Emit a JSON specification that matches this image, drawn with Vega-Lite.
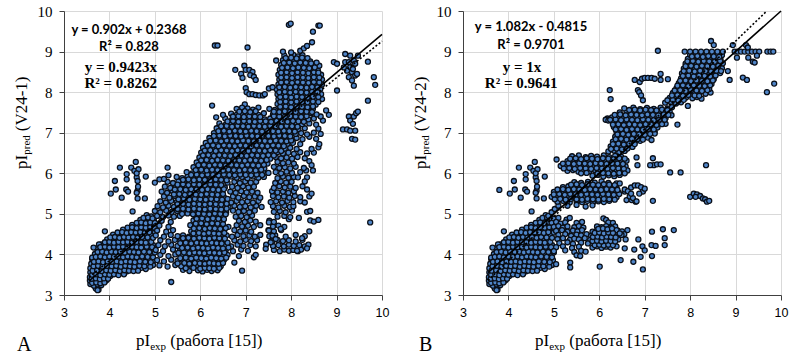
{
"$schema":"https://vega.github.io/schema/vega-lite/v6.json",
"background":"white",
"padding":{"left":13,"top":4,"right":5,"bottom":0},
"spacing":81,
"bounds":"flush",
"config":{
 "view":{"stroke":null},
 "axis":{"grid":true,"gridColor":"#d9d9d9","gridWidth":1,"domainColor":"#404040","tickColor":"#404040","tickSize":5,"labelColor":"#000","labelFlush":false,"labelOverlap":false},
 "axisX":{"labelFont":"Liberation Sans, Arial, sans-serif","labelFontSize":12.5,"labelPadding":6},
 "axisY":{"labelFont":"Liberation Serif, Times New Roman, DejaVu Serif, serif","labelFontSize":15,"labelPadding":7}
},
"datasets":{
"low":[
{"x":3.7,"y":3.16},{"x":3.76,"y":3.13},
{"x":3.58,"y":3.27},{"x":3.66,"y":3.23},{"x":3.74,"y":3.26},{"x":3.82,"y":3.24},
{"x":3.57,"y":3.36},{"x":3.66,"y":3.33},{"x":3.75,"y":3.37},{"x":3.84,"y":3.34},{"x":3.93,"y":3.36},
{"x":3.57,"y":3.44},{"x":3.66,"y":3.47},{"x":3.75,"y":3.43},{"x":3.84,"y":3.46},{"x":3.93,"y":3.44},{"x":4.02,"y":3.47},
{"x":3.58,"y":3.56},{"x":3.68,"y":3.53},{"x":3.78,"y":3.57},{"x":3.88,"y":3.54},{"x":3.98,"y":3.56},{"x":4.08,"y":3.53},{"x":4.18,"y":3.57},{"x":4.28,"y":3.55},{"x":4.38,"y":3.58},
{"x":3.58,"y":3.66},{"x":3.68,"y":3.63},{"x":3.78,"y":3.67},{"x":3.88,"y":3.64},{"x":3.98,"y":3.66},{"x":4.08,"y":3.63},{"x":4.18,"y":3.67},{"x":4.28,"y":3.64},{"x":4.38,"y":3.66},{"x":4.48,"y":3.62},{"x":4.58,"y":3.65},{"x":4.7,"y":3.67},{"x":4.8,"y":3.64},
{"x":3.6,"y":3.77},{"x":3.7,"y":3.74},{"x":3.8,"y":3.78},{"x":3.9,"y":3.75},{"x":4.0,"y":3.77},{"x":4.1,"y":3.74},{"x":4.2,"y":3.78},{"x":4.3,"y":3.75},{"x":4.4,"y":3.77},{"x":4.5,"y":3.74},{"x":4.6,"y":3.78},{"x":4.72,"y":3.75},{"x":4.84,"y":3.77},{"x":4.96,"y":3.74},
{"x":3.62,"y":3.89},{"x":3.72,"y":3.86},{"x":3.82,"y":3.9},{"x":3.92,"y":3.87},{"x":4.02,"y":3.89},{"x":4.12,"y":3.86},{"x":4.22,"y":3.9},{"x":4.32,"y":3.87},{"x":4.42,"y":3.89},{"x":4.52,"y":3.86},{"x":4.62,"y":3.9},{"x":4.74,"y":3.87},{"x":4.86,"y":3.89},{"x":4.98,"y":3.86},
{"x":3.68,"y":4.01},{"x":3.78,"y":3.98},{"x":3.88,"y":4.02},{"x":3.98,"y":3.99},{"x":4.08,"y":4.01},{"x":4.18,"y":3.98},{"x":4.28,"y":4.02},{"x":4.38,"y":3.99},{"x":4.48,"y":4.01},{"x":4.58,"y":3.98},{"x":4.7,"y":4.02},{"x":4.82,"y":3.99},{"x":4.94,"y":4.01},
{"x":3.74,"y":4.13},{"x":3.84,"y":4.1},{"x":3.94,"y":4.14},{"x":4.04,"y":4.11},{"x":4.14,"y":4.13},{"x":4.24,"y":4.1},{"x":4.34,"y":4.14},{"x":4.44,"y":4.11},{"x":4.54,"y":4.13},{"x":4.64,"y":4.1},{"x":4.76,"y":4.14},{"x":4.88,"y":4.11},
{"x":3.82,"y":4.25},{"x":3.92,"y":4.22},{"x":4.02,"y":4.26},{"x":4.12,"y":4.23},{"x":4.22,"y":4.25},{"x":4.32,"y":4.22},{"x":4.42,"y":4.26},{"x":4.52,"y":4.23},{"x":4.62,"y":4.25},{"x":4.72,"y":4.22},{"x":4.84,"y":4.26},{"x":4.96,"y":4.23},
{"x":3.95,"y":4.37},{"x":4.05,"y":4.34},{"x":4.15,"y":4.38},{"x":4.25,"y":4.35},{"x":4.35,"y":4.37},{"x":4.45,"y":4.34},{"x":4.55,"y":4.38},{"x":4.65,"y":4.35},{"x":4.76,"y":4.37},{"x":4.88,"y":4.34},
{"x":4.08,"y":4.49},{"x":4.2,"y":4.46},{"x":4.3,"y":4.5},{"x":4.4,"y":4.47},{"x":4.5,"y":4.49},{"x":4.6,"y":4.46},{"x":4.7,"y":4.5},{"x":4.8,"y":4.47},{"x":4.92,"y":4.49},
{"x":4.3,"y":4.61},{"x":4.4,"y":4.58},{"x":4.5,"y":4.62},{"x":4.6,"y":4.59},{"x":4.7,"y":4.61},{"x":4.8,"y":4.58},{"x":4.9,"y":4.62},{"x":5.0,"y":4.59},
{"x":4.5,"y":4.73},{"x":4.62,"y":4.7},{"x":4.72,"y":4.74},{"x":4.82,"y":4.71},{"x":4.92,"y":4.73},
{"x":4.68,"y":4.85},{"x":4.78,"y":4.82},{"x":4.88,"y":4.86},{"x":4.98,"y":4.83},
{"x":4.82,"y":4.97},{"x":4.92,"y":4.94},
{"x":4.03,"y":5.5},{"x":4.12,"y":5.81},{"x":4.14,"y":5.6},{"x":4.23,"y":6.14},{"x":4.27,"y":5.4},{"x":4.38,"y":5.98},{"x":4.38,"y":5.85},{"x":4.37,"y":5.6},{"x":4.48,"y":6.14},{"x":4.55,"y":6.06},{"x":4.58,"y":6.28},{"x":4.6,"y":5.9},{"x":4.62,"y":5.81},{"x":4.62,"y":5.57},{"x":4.62,"y":5.38},{"x":4.64,"y":6.1},{"x":4.78,"y":5.38},{"x":4.8,"y":5.92},{"x":4.51,"y":5.06},{"x":4.6,"y":5.52},{"x":4.63,"y":5.67},{"x":4.6,"y":6.0},{"x":4.41,"y":5.55},
{"x":3.9,"y":4.57},{"x":3.65,"y":4.17},{"x":3.77,"y":4.25},{"x":3.74,"y":3.12},{"x":3.62,"y":3.92},
{"x":3.62,"y":3.3},{"x":3.71,"y":3.31},{"x":3.8,"y":3.29},{"x":3.89,"y":3.31},
{"x":3.61,"y":3.4},{"x":3.7,"y":3.41},{"x":3.79,"y":3.39},{"x":3.88,"y":3.41},{"x":3.97,"y":3.4},
{"x":3.62,"y":3.5},{"x":3.71,"y":3.51},{"x":3.8,"y":3.49},{"x":3.9,"y":3.51},{"x":4.0,"y":3.5},{"x":4.1,"y":3.51},{"x":4.2,"y":3.49},{"x":4.32,"y":3.51},
{"x":3.63,"y":3.6},{"x":3.73,"y":3.61},{"x":3.83,"y":3.59},{"x":3.93,"y":3.61},{"x":4.03,"y":3.6},{"x":4.13,"y":3.61},{"x":4.23,"y":3.59},{"x":4.33,"y":3.61},{"x":4.43,"y":3.6},{"x":4.53,"y":3.59},{"x":4.63,"y":3.6},
{"x":3.65,"y":3.71},{"x":3.75,"y":3.72},{"x":3.85,"y":3.7},{"x":3.95,"y":3.72},{"x":4.05,"y":3.71},{"x":4.15,"y":3.72},{"x":4.25,"y":3.7},{"x":4.35,"y":3.72},{"x":4.45,"y":3.71},{"x":4.55,"y":3.7},{"x":4.66,"y":3.72},{"x":4.77,"y":3.71},{"x":4.9,"y":3.7},
{"x":3.66,"y":3.82},{"x":3.76,"y":3.83},{"x":3.86,"y":3.81},{"x":3.96,"y":3.83},{"x":4.06,"y":3.82},{"x":4.16,"y":3.83},{"x":4.26,"y":3.81},{"x":4.36,"y":3.83},{"x":4.46,"y":3.82},{"x":4.56,"y":3.81},{"x":4.67,"y":3.83},{"x":4.79,"y":3.82},{"x":4.91,"y":3.81},
{"x":3.7,"y":3.94},{"x":3.8,"y":3.95},{"x":3.9,"y":3.93},{"x":4.0,"y":3.95},{"x":4.1,"y":3.94},{"x":4.2,"y":3.95},{"x":4.3,"y":3.93},{"x":4.4,"y":3.95},{"x":4.5,"y":3.94},{"x":4.6,"y":3.93},{"x":4.72,"y":3.95},{"x":4.84,"y":3.94},{"x":4.96,"y":3.93},
{"x":3.74,"y":4.06},{"x":3.84,"y":4.07},{"x":3.94,"y":4.05},{"x":4.04,"y":4.07},{"x":4.14,"y":4.06},{"x":4.24,"y":4.07},{"x":4.34,"y":4.05},{"x":4.44,"y":4.07},{"x":4.54,"y":4.06},{"x":4.64,"y":4.05},{"x":4.76,"y":4.07},{"x":4.88,"y":4.06},{"x":5.0,"y":4.05},
{"x":3.8,"y":4.18},{"x":3.9,"y":4.19},{"x":4.0,"y":4.17},{"x":4.1,"y":4.19},{"x":4.2,"y":4.18},{"x":4.3,"y":4.19},{"x":4.4,"y":4.17},{"x":4.5,"y":4.19},{"x":4.6,"y":4.18},{"x":4.7,"y":4.17},{"x":4.82,"y":4.19},{"x":4.94,"y":4.18},
{"x":3.9,"y":4.3},{"x":4.0,"y":4.31},{"x":4.1,"y":4.29},{"x":4.2,"y":4.31},{"x":4.3,"y":4.3},{"x":4.4,"y":4.31},{"x":4.5,"y":4.29},{"x":4.6,"y":4.31},{"x":4.7,"y":4.3},{"x":4.8,"y":4.29},{"x":4.92,"y":4.31},
{"x":4.02,"y":4.42},{"x":4.12,"y":4.43},{"x":4.22,"y":4.41},{"x":4.32,"y":4.43},{"x":4.42,"y":4.42},{"x":4.52,"y":4.43},{"x":4.62,"y":4.41},{"x":4.72,"y":4.43},{"x":4.84,"y":4.42},{"x":4.96,"y":4.41},
{"x":4.18,"y":4.54},{"x":4.28,"y":4.55},{"x":4.38,"y":4.53},{"x":4.48,"y":4.55},{"x":4.58,"y":4.54},{"x":4.68,"y":4.55},{"x":4.78,"y":4.53},{"x":4.88,"y":4.55},{"x":5.0,"y":4.54},
{"x":4.4,"y":4.66},{"x":4.5,"y":4.67},{"x":4.6,"y":4.65},{"x":4.7,"y":4.67},{"x":4.8,"y":4.66},{"x":4.9,"y":4.67},{"x":5.0,"y":4.65},
{"x":4.6,"y":4.78},{"x":4.7,"y":4.79},{"x":4.8,"y":4.77},{"x":4.9,"y":4.79},{"x":5.0,"y":4.78},
{"x":4.75,"y":4.9},{"x":4.85,"y":4.91},{"x":4.95,"y":4.89}
],
"a":[
{"x":5.62,"y":3.62},{"x":5.76,"y":3.59},{"x":5.95,"y":3.61},{"x":6.05,"y":3.58},{"x":6.15,"y":3.62},{"x":6.25,"y":3.59},{"x":6.38,"y":3.61},{"x":6.92,"y":3.6},
{"x":5.1,"y":3.73},{"x":5.28,"y":3.7},{"x":5.45,"y":3.74},{"x":5.58,"y":3.71},{"x":5.7,"y":3.73},{"x":5.82,"y":3.7},{"x":5.93,"y":3.74},{"x":6.04,"y":3.71},{"x":6.14,"y":3.73},{"x":6.24,"y":3.7},{"x":6.34,"y":3.74},{"x":6.45,"y":3.71},
{"x":5.05,"y":3.86},{"x":5.2,"y":3.83},{"x":5.36,"y":3.87},{"x":5.5,"y":3.84},{"x":5.62,"y":3.86},{"x":5.74,"y":3.83},{"x":5.86,"y":3.87},{"x":5.97,"y":3.84},{"x":6.08,"y":3.86},{"x":6.19,"y":3.83},{"x":6.3,"y":3.87},{"x":6.42,"y":3.84},{"x":6.52,"y":3.86},{"x":6.75,"y":3.8},
{"x":5.12,"y":3.99},{"x":5.3,"y":3.96},{"x":5.45,"y":4.0},{"x":5.58,"y":3.97},{"x":5.7,"y":3.99},{"x":5.82,"y":3.96},{"x":5.93,"y":4.0},{"x":6.04,"y":3.97},{"x":6.15,"y":3.99},{"x":6.26,"y":3.96},{"x":6.37,"y":4.0},{"x":6.48,"y":3.97},{"x":6.6,"y":3.99},{"x":6.85,"y":3.96},{"x":7.18,"y":3.93},{"x":7.22,"y":3.99},
{"x":5.02,"y":4.11},{"x":5.18,"y":4.08},{"x":5.4,"y":4.12},{"x":5.55,"y":4.09},{"x":5.67,"y":4.11},{"x":5.78,"y":4.08},{"x":5.9,"y":4.12},{"x":6.01,"y":4.09},{"x":6.12,"y":4.11},{"x":6.23,"y":4.08},{"x":6.34,"y":4.12},{"x":6.45,"y":4.09},{"x":6.56,"y":4.11},{"x":6.72,"y":4.08},{"x":6.9,"y":4.12},{"x":7.05,"y":4.09},{"x":7.62,"y":4.11},{"x":7.75,"y":4.08},{"x":7.85,"y":4.12},{"x":7.95,"y":4.09},{"x":8.05,"y":4.11},{"x":8.15,"y":4.08},{"x":8.22,"y":4.12},
{"x":5.08,"y":4.23},{"x":5.22,"y":4.2},{"x":5.36,"y":4.24},{"x":5.5,"y":4.21},{"x":5.62,"y":4.23},{"x":5.74,"y":4.2},{"x":5.86,"y":4.24},{"x":5.98,"y":4.21},{"x":6.09,"y":4.23},{"x":6.2,"y":4.2},{"x":6.31,"y":4.24},{"x":6.42,"y":4.21},{"x":6.55,"y":4.23},{"x":6.68,"y":4.2},{"x":6.82,"y":4.24},{"x":6.95,"y":4.21},{"x":7.1,"y":4.23},{"x":7.22,"y":4.2},{"x":7.45,"y":4.24},{"x":7.6,"y":4.21},{"x":7.72,"y":4.23},{"x":7.84,"y":4.2},{"x":7.95,"y":4.24},{"x":8.06,"y":4.21},{"x":8.18,"y":4.23},{"x":8.3,"y":4.2},{"x":8.38,"y":4.24},
{"x":5.12,"y":4.35},{"x":5.3,"y":4.32},{"x":5.44,"y":4.36},{"x":5.56,"y":4.33},{"x":5.68,"y":4.35},{"x":5.8,"y":4.32},{"x":5.92,"y":4.36},{"x":6.04,"y":4.33},{"x":6.15,"y":4.35},{"x":6.27,"y":4.32},{"x":6.38,"y":4.36},{"x":6.5,"y":4.33},{"x":6.75,"y":4.35},{"x":6.88,"y":4.32},{"x":7.0,"y":4.36},{"x":7.12,"y":4.33},{"x":7.25,"y":4.35},{"x":7.58,"y":4.32},{"x":7.7,"y":4.36},{"x":7.82,"y":4.33},{"x":7.95,"y":4.35},{"x":8.1,"y":4.32},{"x":8.25,"y":4.36},
{"x":5.02,"y":4.47},{"x":5.2,"y":4.44},{"x":5.35,"y":4.48},{"x":5.5,"y":4.45},{"x":5.62,"y":4.47},{"x":5.75,"y":4.44},{"x":5.88,"y":4.48},{"x":6.0,"y":4.45},{"x":6.11,"y":4.47},{"x":6.22,"y":4.44},{"x":6.34,"y":4.48},{"x":6.45,"y":4.45},{"x":6.58,"y":4.47},{"x":6.7,"y":4.44},{"x":6.82,"y":4.48},{"x":6.95,"y":4.45},{"x":7.08,"y":4.47},{"x":7.2,"y":4.44},{"x":7.32,"y":4.48},{"x":7.52,"y":4.45},{"x":7.65,"y":4.47},{"x":7.88,"y":4.44},{"x":8.1,"y":4.48},{"x":8.3,"y":4.45},
{"x":5.05,"y":4.59},{"x":5.25,"y":4.56},{"x":5.4,"y":4.6},{"x":5.8,"y":4.57},{"x":5.92,"y":4.59},{"x":6.04,"y":4.56},{"x":6.16,"y":4.6},{"x":6.28,"y":4.57},{"x":6.4,"y":4.59},{"x":6.52,"y":4.56},{"x":6.75,"y":4.6},{"x":6.88,"y":4.57},{"x":7.0,"y":4.59},{"x":7.12,"y":4.56},{"x":7.5,"y":4.6},{"x":7.62,"y":4.57},{"x":7.78,"y":4.6},{"x":8.4,"y":4.57},
{"x":5.1,"y":4.71},{"x":5.3,"y":4.68},{"x":5.78,"y":4.72},{"x":5.9,"y":4.69},{"x":6.02,"y":4.71},{"x":6.14,"y":4.68},{"x":6.26,"y":4.72},{"x":6.38,"y":4.69},{"x":6.5,"y":4.71},{"x":6.62,"y":4.68},{"x":6.8,"y":4.72},{"x":6.92,"y":4.69},{"x":7.05,"y":4.71},{"x":7.18,"y":4.68},{"x":7.32,"y":4.72},{"x":7.6,"y":4.69},{"x":7.72,"y":4.71},{"x":7.85,"y":4.68},
{"x":5.15,"y":4.83},{"x":5.35,"y":4.8},{"x":5.85,"y":4.84},{"x":5.97,"y":4.81},{"x":6.09,"y":4.83},{"x":6.21,"y":4.8},{"x":6.33,"y":4.84},{"x":6.45,"y":4.81},{"x":6.85,"y":4.83},{"x":6.98,"y":4.8},{"x":7.1,"y":4.84},{"x":7.22,"y":4.81},{"x":7.52,"y":4.83},{"x":7.62,"y":4.8},{"x":7.95,"y":4.87},{"x":8.42,"y":4.84},{"x":8.5,"y":4.81},{"x":8.6,"y":4.85},
{"x":5.05,"y":4.95},{"x":5.18,"y":4.92},{"x":5.3,"y":4.96},{"x":5.42,"y":4.93},{"x":5.55,"y":4.95},{"x":5.9,"y":4.92},{"x":6.02,"y":4.96},{"x":6.14,"y":4.93},{"x":6.26,"y":4.95},{"x":6.38,"y":4.92},{"x":6.5,"y":4.96},{"x":6.78,"y":4.93},{"x":6.9,"y":4.95},{"x":7.02,"y":4.92},{"x":7.14,"y":4.96},{"x":7.7,"y":4.93},{"x":7.85,"y":4.95},{"x":7.98,"y":4.92},{"x":8.17,"y":4.9},
{"x":5.0,"y":5.07},{"x":5.12,"y":5.04},{"x":5.25,"y":5.08},{"x":5.37,"y":5.05},{"x":5.49,"y":5.07},{"x":5.61,"y":5.04},{"x":5.73,"y":5.08},{"x":5.85,"y":5.05},{"x":5.97,"y":5.07},{"x":6.09,"y":5.04},{"x":6.21,"y":5.08},{"x":6.33,"y":5.05},{"x":6.45,"y":5.07},{"x":6.57,"y":5.04},{"x":6.72,"y":5.08},{"x":6.84,"y":5.05},{"x":6.96,"y":5.07},{"x":7.08,"y":5.04},{"x":7.2,"y":5.08},{"x":7.62,"y":5.05},{"x":7.75,"y":5.07},{"x":7.88,"y":5.04},{"x":8.02,"y":5.08},{"x":8.35,"y":5.05},{"x":8.42,"y":5.07},
{"x":5.06,"y":5.19},{"x":5.18,"y":5.16},{"x":5.3,"y":5.2},{"x":5.42,"y":5.17},{"x":5.54,"y":5.19},{"x":5.66,"y":5.16},{"x":5.78,"y":5.2},{"x":5.9,"y":5.17},{"x":6.02,"y":5.19},{"x":6.14,"y":5.16},{"x":6.26,"y":5.2},{"x":6.38,"y":5.17},{"x":6.5,"y":5.19},{"x":6.62,"y":5.16},{"x":6.75,"y":5.2},{"x":6.87,"y":5.17},{"x":6.99,"y":5.19},{"x":7.11,"y":5.16},{"x":7.23,"y":5.2},{"x":7.35,"y":5.17},{"x":7.6,"y":5.19},{"x":7.72,"y":5.16},{"x":7.85,"y":5.2},{"x":7.97,"y":5.17},{"x":8.05,"y":5.19},
{"x":5.12,"y":5.31},{"x":5.24,"y":5.28},{"x":5.36,"y":5.32},{"x":5.48,"y":5.29},{"x":5.6,"y":5.31},{"x":5.72,"y":5.28},{"x":5.84,"y":5.32},{"x":5.96,"y":5.29},{"x":6.08,"y":5.31},{"x":6.2,"y":5.28},{"x":6.32,"y":5.32},{"x":6.44,"y":5.29},{"x":6.56,"y":5.31},{"x":6.68,"y":5.28},{"x":6.8,"y":5.32},{"x":6.92,"y":5.29},{"x":7.04,"y":5.31},{"x":7.16,"y":5.28},{"x":7.28,"y":5.32},{"x":7.55,"y":5.29},{"x":7.67,"y":5.31},{"x":7.8,"y":5.28},{"x":7.92,"y":5.32},{"x":8.05,"y":5.29},{"x":8.2,"y":5.31},{"x":8.3,"y":5.28},
{"x":5.2,"y":5.43},{"x":5.32,"y":5.4},{"x":5.44,"y":5.44},{"x":5.56,"y":5.41},{"x":5.68,"y":5.43},{"x":5.8,"y":5.4},{"x":5.92,"y":5.44},{"x":6.04,"y":5.41},{"x":6.16,"y":5.43},{"x":6.28,"y":5.4},{"x":6.4,"y":5.44},{"x":6.52,"y":5.41},{"x":6.72,"y":5.43},{"x":6.84,"y":5.4},{"x":6.96,"y":5.44},{"x":7.08,"y":5.41},{"x":7.2,"y":5.43},{"x":7.32,"y":5.4},{"x":7.6,"y":5.44},{"x":7.72,"y":5.41},{"x":7.84,"y":5.43},{"x":7.96,"y":5.4},{"x":8.08,"y":5.44},{"x":8.2,"y":5.41},{"x":8.4,"y":5.43},
{"x":5.15,"y":5.55},{"x":5.27,"y":5.52},{"x":5.39,"y":5.56},{"x":5.51,"y":5.53},{"x":5.63,"y":5.55},{"x":5.75,"y":5.52},{"x":5.87,"y":5.56},{"x":5.99,"y":5.53},{"x":6.11,"y":5.55},{"x":6.23,"y":5.52},{"x":6.35,"y":5.56},{"x":6.47,"y":5.53},{"x":6.66,"y":5.55},{"x":6.78,"y":5.52},{"x":6.9,"y":5.56},{"x":7.02,"y":5.53},{"x":7.14,"y":5.55},{"x":7.26,"y":5.52},{"x":7.58,"y":5.56},{"x":7.7,"y":5.53},{"x":7.82,"y":5.55},{"x":7.94,"y":5.52},{"x":8.06,"y":5.56},
{"x":5.22,"y":5.67},{"x":5.34,"y":5.64},{"x":5.46,"y":5.68},{"x":5.58,"y":5.65},{"x":5.7,"y":5.67},{"x":5.82,"y":5.64},{"x":5.94,"y":5.68},{"x":6.06,"y":5.65},{"x":6.18,"y":5.67},{"x":6.3,"y":5.64},{"x":6.42,"y":5.68},{"x":6.54,"y":5.65},{"x":6.7,"y":5.67},{"x":6.82,"y":5.64},{"x":6.94,"y":5.68},{"x":7.06,"y":5.65},{"x":7.18,"y":5.67},{"x":7.62,"y":5.64},{"x":7.74,"y":5.68},{"x":7.86,"y":5.65},{"x":7.98,"y":5.67},{"x":8.1,"y":5.64},{"x":8.25,"y":5.68},
{"x":5.0,"y":5.77},{"x":5.28,"y":5.79},{"x":5.4,"y":5.76},{"x":5.52,"y":5.8},{"x":5.64,"y":5.77},{"x":5.76,"y":5.79},{"x":5.88,"y":5.76},{"x":6.0,"y":5.8},{"x":6.12,"y":5.77},{"x":6.24,"y":5.79},{"x":6.36,"y":5.76},{"x":6.48,"y":5.8},{"x":6.6,"y":5.77},{"x":6.75,"y":5.79},{"x":6.87,"y":5.76},{"x":6.99,"y":5.8},{"x":7.11,"y":5.77},{"x":7.23,"y":5.79},{"x":7.65,"y":5.76},{"x":7.77,"y":5.8},{"x":7.89,"y":5.77},{"x":8.01,"y":5.79},
{"x":5.1,"y":5.85},{"x":5.2,"y":5.86},{"x":5.3,"y":5.95},{"x":5.48,"y":5.91},{"x":5.6,"y":5.88},{"x":5.72,"y":5.92},{"x":5.84,"y":5.89},{"x":5.96,"y":5.91},{"x":6.08,"y":5.88},{"x":6.2,"y":5.92},{"x":6.32,"y":5.89},{"x":6.44,"y":5.91},{"x":6.56,"y":5.88},{"x":6.68,"y":5.92},{"x":6.8,"y":5.89},{"x":6.92,"y":5.91},{"x":7.04,"y":5.88},{"x":7.16,"y":5.92},{"x":7.28,"y":5.89},{"x":7.4,"y":5.91},{"x":7.7,"y":5.88},{"x":7.82,"y":5.92},{"x":7.94,"y":5.89},{"x":8.06,"y":5.91},{"x":8.35,"y":5.9},
{"x":5.7,"y":6.03},{"x":5.82,"y":6.0},{"x":5.94,"y":6.04},{"x":6.06,"y":6.01},{"x":6.18,"y":6.03},{"x":6.3,"y":6.0},{"x":6.42,"y":6.04},{"x":6.54,"y":6.01},{"x":6.66,"y":6.03},{"x":6.78,"y":6.0},{"x":6.9,"y":6.04},{"x":7.02,"y":6.01},{"x":7.14,"y":6.03},{"x":7.26,"y":6.0},{"x":7.38,"y":6.04},{"x":7.5,"y":6.01},{"x":7.66,"y":6.03},{"x":7.78,"y":6.0},{"x":7.9,"y":6.04},{"x":8.02,"y":6.01},{"x":8.2,"y":6.03},{"x":8.33,"y":6.07},{"x":8.48,"y":6.07},
{"x":5.28,"y":6.14},{"x":5.85,"y":6.15},{"x":5.97,"y":6.12},{"x":6.09,"y":6.16},{"x":6.21,"y":6.13},{"x":6.33,"y":6.15},{"x":6.45,"y":6.12},{"x":6.57,"y":6.16},{"x":6.69,"y":6.13},{"x":6.81,"y":6.15},{"x":6.93,"y":6.12},{"x":7.05,"y":6.16},{"x":7.17,"y":6.13},{"x":7.29,"y":6.15},{"x":7.41,"y":6.12},{"x":7.62,"y":6.16},{"x":7.74,"y":6.13},{"x":7.86,"y":6.15},{"x":7.98,"y":6.12},{"x":8.1,"y":6.16},{"x":8.28,"y":6.13},
{"x":5.92,"y":6.27},{"x":6.04,"y":6.24},{"x":6.16,"y":6.28},{"x":6.28,"y":6.25},{"x":6.4,"y":6.27},{"x":6.52,"y":6.24},{"x":6.64,"y":6.28},{"x":6.76,"y":6.25},{"x":6.88,"y":6.27},{"x":7.0,"y":6.24},{"x":7.12,"y":6.28},{"x":7.24,"y":6.25},{"x":7.36,"y":6.27},{"x":7.48,"y":6.24},{"x":7.7,"y":6.28},{"x":7.82,"y":6.25},{"x":7.94,"y":6.27},{"x":8.06,"y":6.24},{"x":8.4,"y":6.3},
{"x":5.98,"y":6.39},{"x":6.1,"y":6.36},{"x":6.22,"y":6.4},{"x":6.34,"y":6.37},{"x":6.46,"y":6.39},{"x":6.58,"y":6.36},{"x":6.7,"y":6.4},{"x":6.82,"y":6.37},{"x":6.94,"y":6.39},{"x":7.06,"y":6.36},{"x":7.18,"y":6.4},{"x":7.3,"y":6.37},{"x":7.42,"y":6.39},{"x":7.54,"y":6.36},{"x":7.66,"y":6.4},{"x":7.78,"y":6.37},{"x":7.9,"y":6.39},{"x":8.02,"y":6.36},{"x":8.14,"y":6.4},{"x":8.3,"y":6.37},
{"x":6.02,"y":6.51},{"x":6.14,"y":6.48},{"x":6.26,"y":6.52},{"x":6.38,"y":6.49},{"x":6.5,"y":6.51},{"x":6.62,"y":6.48},{"x":6.74,"y":6.52},{"x":6.86,"y":6.49},{"x":6.98,"y":6.51},{"x":7.1,"y":6.48},{"x":7.22,"y":6.52},{"x":7.34,"y":6.49},{"x":7.46,"y":6.51},{"x":7.58,"y":6.48},{"x":7.7,"y":6.52},{"x":7.82,"y":6.49},{"x":7.94,"y":6.51},{"x":8.06,"y":6.48},{"x":8.2,"y":6.52},{"x":8.35,"y":6.49},{"x":8.5,"y":6.51},
{"x":6.06,"y":6.63},{"x":6.18,"y":6.6},{"x":6.3,"y":6.64},{"x":6.42,"y":6.61},{"x":6.54,"y":6.63},{"x":6.66,"y":6.6},{"x":6.78,"y":6.64},{"x":6.9,"y":6.61},{"x":7.02,"y":6.63},{"x":7.14,"y":6.6},{"x":7.26,"y":6.64},{"x":7.38,"y":6.61},{"x":7.5,"y":6.63},{"x":7.62,"y":6.6},{"x":7.74,"y":6.64},{"x":7.86,"y":6.61},{"x":7.98,"y":6.63},{"x":8.12,"y":6.6},{"x":8.45,"y":6.6},{"x":8.6,"y":6.64},
{"x":6.12,"y":6.75},{"x":6.24,"y":6.72},{"x":6.36,"y":6.76},{"x":6.48,"y":6.73},{"x":6.6,"y":6.75},{"x":6.72,"y":6.72},{"x":6.84,"y":6.76},{"x":6.96,"y":6.73},{"x":7.08,"y":6.75},{"x":7.2,"y":6.72},{"x":7.32,"y":6.76},{"x":7.44,"y":6.73},{"x":7.56,"y":6.75},{"x":7.68,"y":6.72},{"x":7.8,"y":6.76},{"x":7.92,"y":6.73},{"x":8.04,"y":6.75},{"x":8.2,"y":6.72},{"x":8.62,"y":6.72},
{"x":6.2,"y":6.87},{"x":6.32,"y":6.84},{"x":6.44,"y":6.88},{"x":6.56,"y":6.85},{"x":6.68,"y":6.87},{"x":6.8,"y":6.84},{"x":6.92,"y":6.88},{"x":7.04,"y":6.85},{"x":7.16,"y":6.87},{"x":7.28,"y":6.84},{"x":7.4,"y":6.88},{"x":7.52,"y":6.85},{"x":7.64,"y":6.87},{"x":7.76,"y":6.84},{"x":7.88,"y":6.88},{"x":8.0,"y":6.85},{"x":8.12,"y":6.87},{"x":8.25,"y":6.84},{"x":8.4,"y":6.9},{"x":8.55,"y":6.85},
{"x":6.3,"y":6.99},{"x":6.42,"y":6.96},{"x":6.54,"y":7.0},{"x":6.66,"y":6.97},{"x":6.78,"y":6.99},{"x":6.9,"y":6.96},{"x":7.02,"y":7.0},{"x":7.14,"y":6.97},{"x":7.26,"y":6.99},{"x":7.38,"y":6.96},{"x":7.5,"y":7.0},{"x":7.62,"y":6.97},{"x":7.74,"y":6.99},{"x":7.86,"y":6.96},{"x":7.98,"y":7.0},{"x":8.1,"y":6.97},{"x":8.22,"y":6.99},{"x":8.35,"y":6.96},{"x":8.5,"y":7.0},{"x":8.65,"y":6.97},
{"x":6.36,"y":7.11},{"x":6.48,"y":7.08},{"x":6.6,"y":7.12},{"x":6.72,"y":7.09},{"x":6.84,"y":7.11},{"x":6.96,"y":7.08},{"x":7.08,"y":7.12},{"x":7.2,"y":7.09},{"x":7.32,"y":7.11},{"x":7.44,"y":7.08},{"x":7.56,"y":7.12},{"x":7.68,"y":7.09},{"x":7.8,"y":7.11},{"x":7.92,"y":7.08},{"x":8.04,"y":7.12},{"x":8.16,"y":7.09},{"x":8.3,"y":7.11},{"x":8.6,"y":7.1},
{"x":6.42,"y":7.23},{"x":6.56,"y":7.2},{"x":6.68,"y":7.24},{"x":6.8,"y":7.21},{"x":6.92,"y":7.23},{"x":7.04,"y":7.2},{"x":7.16,"y":7.24},{"x":7.28,"y":7.21},{"x":7.4,"y":7.23},{"x":7.52,"y":7.2},{"x":7.64,"y":7.24},{"x":7.76,"y":7.21},{"x":7.88,"y":7.23},{"x":8.0,"y":7.2},{"x":8.12,"y":7.24},{"x":8.24,"y":7.21},{"x":8.4,"y":7.23},{"x":8.55,"y":7.2},{"x":8.7,"y":7.3},
{"x":6.35,"y":7.38},{"x":6.55,"y":7.35},{"x":6.7,"y":7.32},{"x":6.82,"y":7.36},{"x":6.94,"y":7.33},{"x":7.06,"y":7.35},{"x":7.18,"y":7.32},{"x":7.3,"y":7.36},{"x":7.42,"y":7.33},{"x":7.54,"y":7.35},{"x":7.66,"y":7.32},{"x":7.78,"y":7.36},{"x":7.9,"y":7.33},{"x":8.02,"y":7.35},{"x":8.14,"y":7.32},{"x":8.26,"y":7.36},{"x":8.38,"y":7.33},{"x":8.5,"y":7.35},{"x":8.65,"y":7.4},
{"x":6.5,"y":7.44},{"x":6.68,"y":7.47},{"x":6.8,"y":7.44},{"x":6.92,"y":7.48},{"x":7.04,"y":7.45},{"x":7.16,"y":7.47},{"x":7.28,"y":7.44},{"x":7.4,"y":7.48},{"x":7.6,"y":7.45},{"x":7.72,"y":7.47},{"x":7.84,"y":7.44},{"x":7.96,"y":7.48},{"x":8.08,"y":7.45},{"x":8.2,"y":7.47},{"x":8.32,"y":7.44},{"x":8.44,"y":7.48},{"x":8.56,"y":7.45},{"x":8.83,"y":7.44},
{"x":6.8,"y":7.59},{"x":6.92,"y":7.56},{"x":7.04,"y":7.6},{"x":7.16,"y":7.57},{"x":7.28,"y":7.62},{"x":7.52,"y":7.59},{"x":7.64,"y":7.56},{"x":7.76,"y":7.6},{"x":7.88,"y":7.57},{"x":8.0,"y":7.59},{"x":8.12,"y":7.56},{"x":8.24,"y":7.6},{"x":8.36,"y":7.57},{"x":8.48,"y":7.59},{"x":8.77,"y":7.55},
{"x":7.7,"y":7.71},{"x":7.82,"y":7.68},{"x":7.94,"y":7.72},{"x":8.06,"y":7.69},{"x":8.18,"y":7.71},{"x":8.3,"y":7.68},{"x":8.42,"y":7.72},{"x":8.54,"y":7.69},
{"x":7.72,"y":7.83},{"x":7.84,"y":7.8},{"x":7.96,"y":7.84},{"x":8.08,"y":7.81},{"x":8.2,"y":7.83},{"x":8.32,"y":7.8},{"x":8.44,"y":7.84},{"x":8.56,"y":7.81},{"x":8.68,"y":7.83},
{"x":7.7,"y":7.95},{"x":7.82,"y":7.92},{"x":7.94,"y":7.96},{"x":8.06,"y":7.93},{"x":8.18,"y":7.95},{"x":8.3,"y":7.92},{"x":8.42,"y":7.96},{"x":8.54,"y":7.93},{"x":8.66,"y":7.95},
{"x":7.68,"y":8.07},{"x":7.8,"y":8.04},{"x":7.92,"y":8.08},{"x":8.04,"y":8.05},{"x":8.16,"y":8.07},{"x":8.28,"y":8.04},{"x":8.4,"y":8.08},{"x":8.52,"y":8.05},{"x":8.64,"y":8.07},
{"x":7.72,"y":8.19},{"x":7.84,"y":8.16},{"x":7.96,"y":8.2},{"x":8.08,"y":8.17},{"x":8.2,"y":8.19},{"x":8.32,"y":8.16},{"x":8.44,"y":8.2},{"x":8.56,"y":8.17},{"x":8.68,"y":8.19},
{"x":7.74,"y":8.31},{"x":7.86,"y":8.28},{"x":7.98,"y":8.32},{"x":8.1,"y":8.29},{"x":8.22,"y":8.31},{"x":8.34,"y":8.28},{"x":8.46,"y":8.32},{"x":8.58,"y":8.29},{"x":8.68,"y":8.31},
{"x":7.72,"y":8.43},{"x":7.84,"y":8.4},{"x":7.96,"y":8.44},{"x":8.08,"y":8.41},{"x":8.2,"y":8.43},{"x":8.32,"y":8.4},{"x":8.44,"y":8.44},{"x":8.56,"y":8.41},{"x":8.66,"y":8.43},
{"x":7.75,"y":8.55},{"x":7.87,"y":8.52},{"x":7.99,"y":8.56},{"x":8.11,"y":8.53},{"x":8.23,"y":8.55},{"x":8.35,"y":8.52},{"x":8.47,"y":8.56},{"x":8.59,"y":8.53},
{"x":7.78,"y":8.67},{"x":7.9,"y":8.64},{"x":8.02,"y":8.68},{"x":8.14,"y":8.65},{"x":8.26,"y":8.67},{"x":8.38,"y":8.64},{"x":8.5,"y":8.68},{"x":8.62,"y":8.65},
{"x":7.82,"y":8.79},{"x":7.94,"y":8.76},{"x":8.06,"y":8.8},{"x":8.18,"y":8.77},{"x":8.3,"y":8.79},{"x":8.42,"y":8.76},
{"x":7.85,"y":8.9},{"x":8.05,"y":8.92},{"x":8.15,"y":8.88},{"x":8.25,"y":8.91},
{"x":7.82,"y":9.0},{"x":8.0,"y":8.98},{"x":8.2,"y":9.02},{"x":8.28,"y":9.08},{"x":8.35,"y":9.14},
{"x":7.95,"y":9.66},{"x":7.99,"y":9.69},{"x":8.6,"y":9.64},{"x":8.63,"y":9.64},{"x":8.48,"y":9.49},{"x":8.46,"y":9.23},{"x":7.67,"y":8.78},{"x":7.51,"y":8.09},{"x":7.59,"y":8.12},
{"x":7.04,"y":9.1},{"x":6.32,"y":9.15},{"x":6.38,"y":9.15},{"x":6.77,"y":8.55},{"x":6.9,"y":8.45},{"x":6.93,"y":8.35},{"x":6.97,"y":8.65},{"x":7.0,"y":8.55},{"x":7.08,"y":8.55},{"x":7.15,"y":8.5},{"x":7.1,"y":8.42},{"x":7.18,"y":8.38},{"x":7.22,"y":8.3},{"x":7.0,"y":8.1},{"x":7.02,"y":8.0},{"x":7.08,"y":7.95},{"x":7.15,"y":7.95},{"x":7.22,"y":7.93},{"x":7.3,"y":7.92},{"x":7.38,"y":7.92},{"x":7.42,"y":7.95},{"x":6.98,"y":7.7},{"x":6.92,"y":7.62},{"x":6.26,"y":7.67},
{"x":8.35,"y":5.6},{"x":8.3,"y":5.8},{"x":8.45,"y":5.5},{"x":8.45,"y":6.2},{"x":8.15,"y":5.9},
{"x":7.51,"y":4.79},{"x":7.77,"y":4.63},{"x":7.51,"y":4.59},{"x":7.59,"y":4.46},{"x":7.66,"y":4.38},{"x":7.55,"y":4.3},{"x":7.44,"y":4.14},{"x":8.24,"y":4.4},{"x":8.35,"y":4.15},{"x":8.13,"y":4.09},
{"x":9.19,"y":8.94},{"x":9.3,"y":8.9},{"x":9.38,"y":8.78},{"x":9.41,"y":8.7},{"x":9.23,"y":8.53},{"x":9.34,"y":8.49},{"x":9.41,"y":8.41},{"x":9.45,"y":8.45},{"x":9.27,"y":8.37},{"x":9.34,"y":8.29},{"x":9.38,"y":8.16},{"x":9.19,"y":8.74},{"x":9.27,"y":8.74},{"x":9.16,"y":8.61},{"x":9.47,"y":8.9},{"x":8.94,"y":8.74},{"x":9.01,"y":8.7},{"x":9.01,"y":8.04},{"x":9.3,"y":8.62},{"x":9.36,"y":8.57},
{"x":9.14,"y":7.08},{"x":9.23,"y":7.08},{"x":9.3,"y":7.05},{"x":9.41,"y":7.05},{"x":9.34,"y":6.85},{"x":9.41,"y":6.83},{"x":9.27,"y":7.4},{"x":9.3,"y":7.3},{"x":9.38,"y":7.4},{"x":9.43,"y":7.48},{"x":9.47,"y":7.52},{"x":9.36,"y":7.22},
{"x":9.69,"y":8.75},{"x":9.69,"y":7.79},{"x":9.82,"y":8.37},{"x":9.85,"y":8.18},{"x":9.74,"y":4.79},{"x":5.36,"y":3.32},
{"x":5.68,"y":3.66},{"x":5.85,"y":3.67},{"x":6.0,"y":3.65},{"x":6.1,"y":3.67},{"x":6.2,"y":3.66},{"x":6.3,"y":3.65},{"x":6.42,"y":3.67},
{"x":5.5,"y":3.78},{"x":5.65,"y":3.79},{"x":5.76,"y":3.77},{"x":5.88,"y":3.79},{"x":5.99,"y":3.78},{"x":6.1,"y":3.77},{"x":6.2,"y":3.79},{"x":6.3,"y":3.78},{"x":6.4,"y":3.77},{"x":6.5,"y":3.79},
{"x":5.56,"y":3.91},{"x":5.68,"y":3.92},{"x":5.8,"y":3.9},{"x":5.91,"y":3.92},{"x":6.02,"y":3.91},{"x":6.13,"y":3.9},{"x":6.24,"y":3.92},{"x":6.35,"y":3.91},{"x":6.46,"y":3.9},{"x":6.57,"y":3.92},
{"x":5.52,"y":4.04},{"x":5.64,"y":4.05},{"x":5.76,"y":4.03},{"x":5.87,"y":4.05},{"x":5.98,"y":4.04},{"x":6.09,"y":4.03},{"x":6.2,"y":4.05},{"x":6.31,"y":4.04},{"x":6.42,"y":4.03},{"x":6.53,"y":4.05},
{"x":5.6,"y":4.16},{"x":5.72,"y":4.17},{"x":5.84,"y":4.15},{"x":5.95,"y":4.17},{"x":6.06,"y":4.16},{"x":6.17,"y":4.15},{"x":6.28,"y":4.17},{"x":6.39,"y":4.16},{"x":6.5,"y":4.15},{"x":6.62,"y":4.17},
{"x":5.56,"y":4.28},{"x":5.68,"y":4.29},{"x":5.8,"y":4.27},{"x":5.92,"y":4.29},{"x":6.03,"y":4.28},{"x":6.14,"y":4.27},{"x":6.25,"y":4.29},{"x":6.36,"y":4.28},{"x":6.47,"y":4.27},{"x":6.6,"y":4.29},
{"x":5.62,"y":4.4},{"x":5.74,"y":4.41},{"x":5.86,"y":4.39},{"x":5.98,"y":4.41},{"x":6.09,"y":4.4},{"x":6.2,"y":4.39},{"x":6.31,"y":4.41},{"x":6.42,"y":4.4},{"x":6.54,"y":4.39},
{"x":5.85,"y":4.52},{"x":5.97,"y":4.53},{"x":6.08,"y":4.51},{"x":6.19,"y":4.53},{"x":6.3,"y":4.52},{"x":6.41,"y":4.51},{"x":6.53,"y":4.53},
{"x":5.86,"y":4.64},{"x":5.98,"y":4.65},{"x":6.1,"y":4.63},{"x":6.21,"y":4.65},{"x":6.32,"y":4.64},{"x":6.44,"y":4.63},{"x":6.56,"y":4.65},
{"x":5.9,"y":4.76},{"x":6.02,"y":4.77},{"x":6.14,"y":4.75},{"x":6.26,"y":4.77},{"x":6.38,"y":4.76},{"x":6.5,"y":4.75},
{"x":5.92,"y":4.88},{"x":6.04,"y":4.89},{"x":6.16,"y":4.87},{"x":6.28,"y":4.89},{"x":6.4,"y":4.88},{"x":6.52,"y":4.87},
{"x":5.6,"y":5.0},{"x":5.72,"y":5.01},{"x":5.84,"y":4.99},{"x":5.96,"y":5.01},{"x":6.08,"y":5.0},{"x":6.2,"y":4.99},{"x":6.32,"y":5.01},{"x":6.44,"y":5.0},{"x":6.56,"y":4.99},
{"x":5.5,"y":5.12},{"x":5.62,"y":5.13},{"x":5.74,"y":5.11},{"x":5.86,"y":5.13},{"x":5.98,"y":5.12},{"x":6.1,"y":5.11},{"x":6.22,"y":5.13},{"x":6.34,"y":5.12},{"x":6.46,"y":5.11},{"x":6.58,"y":5.13},
{"x":5.5,"y":5.24},{"x":5.62,"y":5.25},{"x":5.74,"y":5.23},{"x":5.86,"y":5.25},{"x":5.98,"y":5.24},{"x":6.1,"y":5.23},{"x":6.22,"y":5.25},{"x":6.34,"y":5.24},{"x":6.46,"y":5.23},{"x":6.58,"y":5.25},
{"x":5.52,"y":5.36},{"x":5.64,"y":5.37},{"x":5.76,"y":5.35},{"x":5.88,"y":5.37},{"x":6.0,"y":5.36},{"x":6.12,"y":5.35},{"x":6.24,"y":5.37},{"x":6.36,"y":5.36},{"x":6.48,"y":5.35},{"x":6.6,"y":5.37},
{"x":5.42,"y":5.48},{"x":5.54,"y":5.49},{"x":5.66,"y":5.47},{"x":5.78,"y":5.49},{"x":5.9,"y":5.48},{"x":6.02,"y":5.47},{"x":6.14,"y":5.49},{"x":6.26,"y":5.48},{"x":6.38,"y":5.47},{"x":6.5,"y":5.49},
{"x":5.44,"y":5.6},{"x":5.56,"y":5.61},{"x":5.68,"y":5.59},{"x":5.8,"y":5.61},{"x":5.92,"y":5.6},{"x":6.04,"y":5.59},{"x":6.16,"y":5.61},{"x":6.28,"y":5.6},{"x":6.4,"y":5.59},{"x":6.52,"y":5.61},
{"x":5.5,"y":5.72},{"x":5.62,"y":5.73},{"x":5.74,"y":5.71},{"x":5.86,"y":5.73},{"x":5.98,"y":5.72},{"x":6.1,"y":5.71},{"x":6.22,"y":5.73},{"x":6.34,"y":5.72},{"x":6.46,"y":5.71},
{"x":5.62,"y":5.84},{"x":5.74,"y":5.85},{"x":5.86,"y":5.83},{"x":5.98,"y":5.85},{"x":6.1,"y":5.84},{"x":6.22,"y":5.83},{"x":6.34,"y":5.85},{"x":6.46,"y":5.84},{"x":6.58,"y":5.83},
{"x":5.8,"y":5.96},{"x":5.92,"y":5.97},{"x":6.04,"y":5.95},{"x":6.16,"y":5.97},{"x":6.28,"y":5.96},{"x":6.4,"y":5.95},{"x":6.52,"y":5.97},{"x":6.64,"y":5.96},{"x":6.76,"y":5.95},{"x":6.88,"y":5.97},{"x":7.0,"y":5.96},{"x":7.12,"y":5.95},{"x":7.24,"y":5.97},{"x":7.36,"y":5.96},
{"x":5.9,"y":6.08},{"x":6.02,"y":6.09},{"x":6.14,"y":6.07},{"x":6.26,"y":6.09},{"x":6.38,"y":6.08},{"x":6.5,"y":6.07},{"x":6.62,"y":6.09},{"x":6.74,"y":6.08},{"x":6.86,"y":6.07},{"x":6.98,"y":6.09},{"x":7.1,"y":6.08},{"x":7.22,"y":6.07},{"x":7.34,"y":6.09},
{"x":5.96,"y":6.2},{"x":6.08,"y":6.21},{"x":6.2,"y":6.19},{"x":6.32,"y":6.21},{"x":6.44,"y":6.2},{"x":6.56,"y":6.19},{"x":6.68,"y":6.21},{"x":6.8,"y":6.2},{"x":6.92,"y":6.19},{"x":7.04,"y":6.21},{"x":7.16,"y":6.2},{"x":7.28,"y":6.19},{"x":7.4,"y":6.21},
{"x":6.02,"y":6.32},{"x":6.14,"y":6.33},{"x":6.26,"y":6.31},{"x":6.38,"y":6.33},{"x":6.5,"y":6.32},{"x":6.62,"y":6.31},{"x":6.74,"y":6.33},{"x":6.86,"y":6.32},{"x":6.98,"y":6.31},{"x":7.1,"y":6.33},{"x":7.22,"y":6.32},{"x":7.34,"y":6.31},{"x":7.46,"y":6.33},
{"x":6.06,"y":6.44},{"x":6.18,"y":6.45},{"x":6.3,"y":6.43},{"x":6.42,"y":6.45},{"x":6.54,"y":6.44},{"x":6.66,"y":6.43},{"x":6.78,"y":6.45},{"x":6.9,"y":6.44},{"x":7.02,"y":6.43},{"x":7.14,"y":6.45},{"x":7.26,"y":6.44},{"x":7.38,"y":6.43},{"x":7.5,"y":6.45},{"x":7.62,"y":6.44},
{"x":6.1,"y":6.56},{"x":6.22,"y":6.57},{"x":6.34,"y":6.55},{"x":6.46,"y":6.57},{"x":6.58,"y":6.56},{"x":6.7,"y":6.55},{"x":6.82,"y":6.57},{"x":6.94,"y":6.56},{"x":7.06,"y":6.55},{"x":7.18,"y":6.57},{"x":7.3,"y":6.56},{"x":7.42,"y":6.55},{"x":7.54,"y":6.57},{"x":7.66,"y":6.56},{"x":7.78,"y":6.55},
{"x":6.16,"y":6.68},{"x":6.28,"y":6.69},{"x":6.4,"y":6.67},{"x":6.52,"y":6.69},{"x":6.64,"y":6.68},{"x":6.76,"y":6.67},{"x":6.88,"y":6.69},{"x":7.0,"y":6.68},{"x":7.12,"y":6.67},{"x":7.24,"y":6.69},{"x":7.36,"y":6.68},{"x":7.48,"y":6.67},{"x":7.6,"y":6.69},{"x":7.72,"y":6.68},{"x":7.84,"y":6.67},
{"x":6.22,"y":6.8},{"x":6.34,"y":6.81},{"x":6.46,"y":6.79},{"x":6.58,"y":6.81},{"x":6.7,"y":6.8},{"x":6.82,"y":6.79},{"x":6.94,"y":6.81},{"x":7.06,"y":6.8},{"x":7.18,"y":6.79},{"x":7.3,"y":6.81},{"x":7.42,"y":6.8},{"x":7.54,"y":6.79},{"x":7.66,"y":6.81},{"x":7.78,"y":6.8},{"x":7.9,"y":6.79},{"x":8.0,"y":6.81},
{"x":6.3,"y":6.92},{"x":6.42,"y":6.93},{"x":6.54,"y":6.91},{"x":6.66,"y":6.93},{"x":6.78,"y":6.92},{"x":6.9,"y":6.91},{"x":7.02,"y":6.93},{"x":7.14,"y":6.92},{"x":7.26,"y":6.91},{"x":7.38,"y":6.93},{"x":7.5,"y":6.92},{"x":7.62,"y":6.91},{"x":7.74,"y":6.93},{"x":7.86,"y":6.92},{"x":7.98,"y":6.91},
{"x":6.4,"y":7.04},{"x":6.52,"y":7.05},{"x":6.64,"y":7.03},{"x":6.76,"y":7.05},{"x":6.88,"y":7.04},{"x":7.0,"y":7.03},{"x":7.12,"y":7.05},{"x":7.24,"y":7.04},{"x":7.36,"y":7.03},{"x":7.48,"y":7.05},{"x":7.6,"y":7.04},{"x":7.72,"y":7.03},{"x":7.84,"y":7.05},{"x":7.96,"y":7.04},{"x":8.08,"y":7.03},
{"x":6.46,"y":7.16},{"x":6.58,"y":7.17},{"x":6.7,"y":7.15},{"x":6.82,"y":7.17},{"x":6.94,"y":7.16},{"x":7.06,"y":7.15},{"x":7.18,"y":7.17},{"x":7.3,"y":7.16},{"x":7.42,"y":7.15},{"x":7.54,"y":7.17},{"x":7.66,"y":7.16},{"x":7.78,"y":7.15},{"x":7.9,"y":7.17},{"x":8.02,"y":7.16},{"x":8.14,"y":7.15},
{"x":6.6,"y":7.28},{"x":6.72,"y":7.29},{"x":6.84,"y":7.27},{"x":6.96,"y":7.29},{"x":7.08,"y":7.28},{"x":7.2,"y":7.27},{"x":7.32,"y":7.29},{"x":7.44,"y":7.28},{"x":7.56,"y":7.27},{"x":7.68,"y":7.29},{"x":7.8,"y":7.28},{"x":7.92,"y":7.27},{"x":8.04,"y":7.29},{"x":8.16,"y":7.28},{"x":8.28,"y":7.27},
{"x":6.72,"y":7.4},{"x":6.84,"y":7.41},{"x":6.96,"y":7.39},{"x":7.08,"y":7.41},{"x":7.2,"y":7.4},{"x":7.32,"y":7.39},{"x":7.62,"y":7.41},{"x":7.74,"y":7.4},{"x":7.86,"y":7.39},{"x":7.98,"y":7.41},{"x":8.1,"y":7.4},{"x":8.22,"y":7.39},{"x":8.34,"y":7.41},
{"x":6.86,"y":7.52},{"x":6.98,"y":7.53},{"x":7.1,"y":7.51},{"x":7.22,"y":7.53},{"x":7.62,"y":7.52},{"x":7.74,"y":7.51},{"x":7.86,"y":7.53},{"x":7.98,"y":7.52},{"x":8.1,"y":7.51},{"x":8.22,"y":7.53},{"x":8.34,"y":7.52},{"x":8.46,"y":7.51},
{"x":7.76,"y":7.64},{"x":7.88,"y":7.65},{"x":8.0,"y":7.63},{"x":8.12,"y":7.65},{"x":8.24,"y":7.64},{"x":8.36,"y":7.63},{"x":8.48,"y":7.65},
{"x":7.76,"y":7.76},{"x":7.88,"y":7.77},{"x":8.0,"y":7.75},{"x":8.12,"y":7.77},{"x":8.24,"y":7.76},{"x":8.36,"y":7.75},{"x":8.48,"y":7.77},{"x":8.6,"y":7.76},
{"x":7.76,"y":7.88},{"x":7.88,"y":7.89},{"x":8.0,"y":7.87},{"x":8.12,"y":7.89},{"x":8.24,"y":7.88},{"x":8.36,"y":7.87},{"x":8.48,"y":7.89},{"x":8.6,"y":7.88},
{"x":7.74,"y":8.0},{"x":7.86,"y":8.01},{"x":7.98,"y":7.99},{"x":8.1,"y":8.01},{"x":8.22,"y":8.0},{"x":8.34,"y":7.99},{"x":8.46,"y":8.01},{"x":8.58,"y":8.0},
{"x":7.74,"y":8.12},{"x":7.86,"y":8.13},{"x":7.98,"y":8.11},{"x":8.1,"y":8.13},{"x":8.22,"y":8.12},{"x":8.34,"y":8.11},{"x":8.46,"y":8.13},{"x":8.58,"y":8.12},
{"x":7.78,"y":8.24},{"x":7.9,"y":8.25},{"x":8.02,"y":8.23},{"x":8.14,"y":8.25},{"x":8.26,"y":8.24},{"x":8.38,"y":8.23},{"x":8.5,"y":8.25},{"x":8.62,"y":8.24},
{"x":7.78,"y":8.36},{"x":7.9,"y":8.37},{"x":8.02,"y":8.35},{"x":8.14,"y":8.37},{"x":8.26,"y":8.36},{"x":8.38,"y":8.35},{"x":8.5,"y":8.37},{"x":8.62,"y":8.36},
{"x":7.78,"y":8.48},{"x":7.9,"y":8.49},{"x":8.02,"y":8.47},{"x":8.14,"y":8.49},{"x":8.26,"y":8.48},{"x":8.38,"y":8.47},{"x":8.5,"y":8.49},{"x":8.6,"y":8.48},
{"x":7.8,"y":8.6},{"x":7.92,"y":8.61},{"x":8.04,"y":8.59},{"x":8.16,"y":8.61},{"x":8.28,"y":8.6},{"x":8.4,"y":8.59},{"x":8.52,"y":8.61},
{"x":7.84,"y":8.72},{"x":7.96,"y":8.73},{"x":8.08,"y":8.71},{"x":8.2,"y":8.73},{"x":8.32,"y":8.72},{"x":8.44,"y":8.71},{"x":8.56,"y":8.73},
{"x":7.88,"y":8.84},{"x":8.0,"y":8.85},{"x":8.12,"y":8.83},{"x":8.24,"y":8.85},{"x":8.36,"y":8.84}
],
"b":[
{"x":5.0,"y":4.88},{"x":5.1,"y":4.9},{"x":5.28,"y":4.86},{"x":5.35,"y":4.9},
{"x":4.95,"y":4.78},{"x":5.05,"y":4.8},{"x":5.15,"y":4.76},{"x":5.25,"y":4.79},{"x":5.5,"y":4.78},{"x":5.62,"y":4.8},{"x":6.09,"y":4.89},{"x":6.15,"y":4.85},{"x":6.2,"y":4.79},{"x":6.3,"y":4.78},
{"x":5.0,"y":4.68},{"x":5.1,"y":4.7},{"x":5.2,"y":4.66},{"x":5.3,"y":4.69},{"x":5.45,"y":4.67},{"x":5.55,"y":4.7},{"x":5.65,"y":4.66},{"x":5.95,"y":4.69},{"x":6.05,"y":4.67},{"x":6.15,"y":4.7},{"x":6.25,"y":4.66},{"x":6.35,"y":4.69},
{"x":5.05,"y":4.58},{"x":5.18,"y":4.6},{"x":5.3,"y":4.56},{"x":5.42,"y":4.59},{"x":5.52,"y":4.57},{"x":5.62,"y":4.6},{"x":5.85,"y":4.56},{"x":5.95,"y":4.59},{"x":6.05,"y":4.57},{"x":6.15,"y":4.6},{"x":6.25,"y":4.56},{"x":6.4,"y":4.59},{"x":6.5,"y":4.57},{"x":6.62,"y":4.6},
{"x":5.1,"y":4.48},{"x":5.25,"y":4.5},{"x":5.38,"y":4.46},{"x":5.5,"y":4.49},{"x":5.6,"y":4.47},{"x":5.72,"y":4.5},{"x":5.82,"y":4.46},{"x":5.92,"y":4.49},{"x":6.02,"y":4.47},{"x":6.12,"y":4.5},{"x":6.22,"y":4.46},{"x":6.32,"y":4.49},{"x":6.45,"y":4.47},{"x":6.55,"y":4.5},
{"x":5.08,"y":4.38},{"x":5.2,"y":4.4},{"x":5.35,"y":4.36},{"x":5.45,"y":4.39},{"x":5.55,"y":4.37},{"x":5.68,"y":4.4},{"x":5.8,"y":4.36},{"x":5.9,"y":4.39},{"x":6.0,"y":4.37},{"x":6.1,"y":4.4},{"x":6.2,"y":4.36},{"x":6.3,"y":4.39},{"x":6.42,"y":4.37},
{"x":5.12,"y":4.28},{"x":5.3,"y":4.3},{"x":5.42,"y":4.26},{"x":5.6,"y":4.29},{"x":5.75,"y":4.27},{"x":5.88,"y":4.3},{"x":5.98,"y":4.26},{"x":6.08,"y":4.29},{"x":6.18,"y":4.27},{"x":6.28,"y":4.3},
{"x":5.05,"y":4.18},{"x":5.2,"y":4.2},{"x":5.4,"y":4.16},{"x":5.55,"y":4.19},{"x":5.85,"y":4.17},{"x":5.95,"y":4.2},{"x":6.05,"y":4.16},{"x":6.15,"y":4.19},{"x":6.25,"y":4.17},{"x":6.38,"y":4.2},
{"x":5.0,"y":4.08},{"x":5.25,"y":4.1},{"x":5.45,"y":4.06},{"x":5.6,"y":4.09},{"x":5.7,"y":4.07},
{"x":5.5,"y":3.98},{"x":5.58,"y":3.96},{"x":5.05,"y":3.76},{"x":5.36,"y":3.8},{"x":5.36,"y":3.68},{"x":6.01,"y":3.7},{"x":6.47,"y":3.86},
{"x":4.88,"y":4.95},{"x":4.95,"y":5.04},{"x":5.02,"y":5.12},{"x":5.1,"y":5.2},
{"x":5.45,"y":5.78},{"x":5.6,"y":5.76},{"x":5.75,"y":5.79},{"x":5.9,"y":5.77},{"x":6.05,"y":5.8},{"x":6.2,"y":5.76},
{"x":5.2,"y":5.66},{"x":5.32,"y":5.68},{"x":5.44,"y":5.64},{"x":5.56,"y":5.67},{"x":5.68,"y":5.65},{"x":5.8,"y":5.68},{"x":5.92,"y":5.64},{"x":6.04,"y":5.67},{"x":6.16,"y":5.65},{"x":6.28,"y":5.68},{"x":6.38,"y":5.64},
{"x":5.0,"y":5.54},{"x":5.1,"y":5.56},{"x":5.22,"y":5.52},{"x":5.34,"y":5.55},{"x":5.46,"y":5.53},{"x":5.58,"y":5.56},{"x":5.7,"y":5.52},{"x":5.82,"y":5.55},{"x":5.94,"y":5.53},{"x":6.06,"y":5.56},{"x":6.18,"y":5.52},{"x":6.3,"y":5.55},{"x":6.42,"y":5.53},
{"x":4.95,"y":5.42},{"x":5.06,"y":5.44},{"x":5.18,"y":5.4},{"x":5.3,"y":5.43},{"x":5.42,"y":5.41},{"x":5.54,"y":5.44},{"x":5.66,"y":5.4},{"x":5.78,"y":5.43},{"x":5.9,"y":5.41},{"x":6.02,"y":5.44},{"x":6.14,"y":5.4},{"x":6.26,"y":5.43},{"x":6.38,"y":5.41},
{"x":5.08,"y":5.3},{"x":5.2,"y":5.32},{"x":5.35,"y":5.28},{"x":5.5,"y":5.31},{"x":5.62,"y":5.29},{"x":5.74,"y":5.32},{"x":5.86,"y":5.28},{"x":5.98,"y":5.31},{"x":6.1,"y":5.29},{"x":6.22,"y":5.32},
{"x":5.3,"y":5.2},{"x":5.5,"y":5.22},{"x":5.7,"y":5.18},{"x":5.85,"y":5.21},
{"x":6.38,"y":5.75},{"x":6.45,"y":5.75},{"x":6.56,"y":5.55},{"x":6.6,"y":5.34},{"x":6.71,"y":5.34},{"x":6.8,"y":5.3},
{"x":5.4,"y":6.42},{"x":5.55,"y":6.44},{"x":5.7,"y":6.4},{"x":5.82,"y":6.43},{"x":5.95,"y":6.41},{"x":6.1,"y":6.44},{"x":6.22,"y":6.4},{"x":6.35,"y":6.43},{"x":6.48,"y":6.41},
{"x":5.3,"y":6.3},{"x":5.42,"y":6.32},{"x":5.54,"y":6.28},{"x":5.66,"y":6.31},{"x":5.78,"y":6.29},{"x":5.9,"y":6.32},{"x":6.02,"y":6.28},{"x":6.14,"y":6.31},{"x":6.26,"y":6.29},{"x":6.38,"y":6.32},{"x":6.5,"y":6.28},{"x":6.6,"y":6.31},
{"x":5.15,"y":6.18},{"x":5.26,"y":6.2},{"x":5.38,"y":6.16},{"x":5.5,"y":6.19},{"x":5.62,"y":6.17},{"x":5.74,"y":6.2},{"x":5.86,"y":6.16},{"x":5.98,"y":6.19},{"x":6.1,"y":6.17},{"x":6.22,"y":6.2},{"x":6.34,"y":6.16},{"x":6.46,"y":6.19},{"x":6.58,"y":6.17},
{"x":5.3,"y":6.06},{"x":5.42,"y":6.08},{"x":5.54,"y":6.04},{"x":5.66,"y":6.07},{"x":5.78,"y":6.05},{"x":5.9,"y":6.08},{"x":6.02,"y":6.04},{"x":6.14,"y":6.07},{"x":6.26,"y":6.05},{"x":6.38,"y":6.08},{"x":6.5,"y":6.04},{"x":6.62,"y":6.07},
{"x":5.85,"y":5.94},{"x":5.97,"y":5.96},{"x":6.09,"y":5.92},{"x":6.21,"y":5.95},{"x":6.33,"y":5.93},{"x":6.45,"y":5.96},
{"x":5.06,"y":6.34},{"x":3.8,"y":5.59},
{"x":6.2,"y":6.54},{"x":6.32,"y":6.56},{"x":6.44,"y":6.52},{"x":6.56,"y":6.55},
{"x":6.25,"y":6.66},{"x":6.37,"y":6.68},{"x":6.49,"y":6.64},{"x":6.61,"y":6.67},{"x":6.73,"y":6.65},
{"x":6.3,"y":6.78},{"x":6.42,"y":6.8},{"x":6.54,"y":6.76},{"x":6.66,"y":6.79},{"x":6.78,"y":6.77},{"x":6.9,"y":6.8},
{"x":6.35,"y":6.9},{"x":6.47,"y":6.92},{"x":6.59,"y":6.88},{"x":6.71,"y":6.91},{"x":6.83,"y":6.89},{"x":6.95,"y":6.92},{"x":7.07,"y":6.88},
{"x":6.38,"y":7.02},{"x":6.5,"y":7.04},{"x":6.62,"y":7.0},{"x":6.74,"y":7.03},{"x":6.86,"y":7.01},{"x":6.98,"y":7.04},{"x":7.1,"y":7.0},{"x":7.22,"y":7.03},
{"x":6.32,"y":7.14},{"x":6.44,"y":7.16},{"x":6.56,"y":7.12},{"x":6.68,"y":7.15},{"x":6.8,"y":7.13},{"x":6.92,"y":7.16},{"x":7.04,"y":7.12},{"x":7.16,"y":7.15},{"x":7.28,"y":7.13},
{"x":6.3,"y":7.26},{"x":6.42,"y":7.28},{"x":6.54,"y":7.24},{"x":6.66,"y":7.27},{"x":6.78,"y":7.25},{"x":6.9,"y":7.28},{"x":7.02,"y":7.24},{"x":7.14,"y":7.27},{"x":7.26,"y":7.25},{"x":7.38,"y":7.28},
{"x":6.18,"y":7.35},{"x":6.28,"y":7.38},{"x":6.4,"y":7.4},{"x":6.52,"y":7.36},{"x":6.64,"y":7.39},{"x":6.76,"y":7.37},{"x":6.88,"y":7.4},{"x":7.0,"y":7.36},{"x":7.12,"y":7.39},{"x":7.24,"y":7.37},{"x":7.36,"y":7.4},{"x":7.46,"y":7.36},
{"x":6.45,"y":7.5},{"x":6.6,"y":7.52},{"x":6.72,"y":7.48},{"x":6.84,"y":7.51},{"x":6.96,"y":7.49},{"x":7.08,"y":7.52},{"x":7.2,"y":7.48},{"x":7.32,"y":7.51},{"x":7.44,"y":7.49},{"x":7.55,"y":7.52},
{"x":6.55,"y":7.6},{"x":6.75,"y":7.62},{"x":6.9,"y":7.58},{"x":7.05,"y":7.61},{"x":7.2,"y":7.59},{"x":7.35,"y":7.62},{"x":7.5,"y":7.6},{"x":7.6,"y":7.63},
{"x":6.14,"y":7.32},{"x":6.2,"y":7.3},{"x":7.22,"y":6.98},{"x":7.15,"y":6.82},{"x":7.46,"y":7.22},{"x":7.72,"y":7.2},{"x":7.59,"y":7.43},
{"x":7.45,"y":7.74},{"x":7.57,"y":7.76},{"x":7.69,"y":7.72},{"x":7.8,"y":7.75},
{"x":7.55,"y":7.86},{"x":7.67,"y":7.88},{"x":7.79,"y":7.84},{"x":7.91,"y":7.87},{"x":8.05,"y":7.85},{"x":8.15,"y":7.88},{"x":8.25,"y":7.84},
{"x":7.62,"y":7.98},{"x":7.74,"y":8.0},{"x":7.86,"y":7.96},{"x":7.98,"y":7.99},{"x":8.1,"y":7.97},{"x":8.22,"y":8.0},{"x":8.34,"y":7.96},{"x":8.45,"y":7.99},
{"x":7.7,"y":8.1},{"x":7.82,"y":8.12},{"x":7.94,"y":8.08},{"x":8.06,"y":8.11},{"x":8.18,"y":8.09},{"x":8.3,"y":8.12},{"x":8.42,"y":8.08},
{"x":7.75,"y":8.22},{"x":7.87,"y":8.24},{"x":7.99,"y":8.2},{"x":8.11,"y":8.23},{"x":8.23,"y":8.21},{"x":8.35,"y":8.24},{"x":8.47,"y":8.2},
{"x":7.8,"y":8.34},{"x":7.92,"y":8.36},{"x":8.04,"y":8.32},{"x":8.16,"y":8.35},{"x":8.28,"y":8.33},{"x":8.4,"y":8.36},{"x":8.52,"y":8.32},
{"x":7.82,"y":8.46},{"x":7.94,"y":8.48},{"x":8.06,"y":8.44},{"x":8.18,"y":8.47},{"x":8.3,"y":8.45},{"x":8.42,"y":8.48},{"x":8.54,"y":8.44},{"x":8.66,"y":8.47},
{"x":7.86,"y":8.58},{"x":7.98,"y":8.6},{"x":8.1,"y":8.56},{"x":8.22,"y":8.59},{"x":8.34,"y":8.57},{"x":8.46,"y":8.6},{"x":8.58,"y":8.56},{"x":8.7,"y":8.59},
{"x":7.9,"y":8.7},{"x":8.02,"y":8.72},{"x":8.14,"y":8.68},{"x":8.26,"y":8.71},{"x":8.38,"y":8.69},{"x":8.5,"y":8.72},{"x":8.62,"y":8.68},{"x":8.72,"y":8.71},
{"x":7.95,"y":8.82},{"x":8.07,"y":8.84},{"x":8.19,"y":8.8},{"x":8.31,"y":8.83},{"x":8.43,"y":8.81},{"x":8.55,"y":8.84},{"x":8.67,"y":8.8},
{"x":8.0,"y":8.92},{"x":8.12,"y":8.93},{"x":8.24,"y":8.91},{"x":8.36,"y":8.93},{"x":8.48,"y":8.92},{"x":8.6,"y":8.93},{"x":8.7,"y":8.91},
{"x":7.88,"y":9.0},{"x":8.0,"y":9.0},{"x":8.12,"y":9.0},{"x":8.24,"y":9.0},{"x":8.36,"y":9.0},{"x":8.48,"y":9.0},{"x":8.6,"y":9.0},{"x":8.72,"y":9.0},
{"x":8.46,"y":9.26},{"x":8.52,"y":9.16},{"x":7.29,"y":9.02},{"x":7.95,"y":7.66},
{"x":8.98,"y":9.0},{"x":9.05,"y":9.0},{"x":9.12,"y":9.0},{"x":9.2,"y":9.0},{"x":9.28,"y":9.0},{"x":9.36,"y":9.0},{"x":9.44,"y":9.0},{"x":9.52,"y":9.0},{"x":9.7,"y":9.0},{"x":9.77,"y":9.0},{"x":9.83,"y":9.0},{"x":8.94,"y":9.16},{"x":9.23,"y":9.16},{"x":9.27,"y":9.1},{"x":9.03,"y":8.85},{"x":9.28,"y":8.85},{"x":9.38,"y":8.75},{"x":9.42,"y":8.73},{"x":9.47,"y":8.9},{"x":8.83,"y":8.52},{"x":8.87,"y":8.3},{"x":9.16,"y":8.36},{"x":9.25,"y":8.3},{"x":9.69,"y":8.0},{"x":9.85,"y":8.21},
{"x":6.78,"y":8.3},{"x":6.89,"y":8.25},{"x":6.94,"y":8.33},{"x":7.0,"y":8.35},{"x":7.07,"y":8.35},{"x":7.15,"y":8.35},{"x":7.22,"y":8.33},{"x":7.35,"y":8.45},{"x":7.35,"y":8.3},{"x":7.51,"y":8.32},{"x":6.85,"y":8.05},{"x":6.88,"y":8.0},{"x":6.92,"y":7.92},{"x":6.96,"y":7.8},{"x":6.23,"y":8.05},{"x":6.25,"y":7.83},
{"x":6.82,"y":6.39},{"x":6.84,"y":6.2},{"x":7.18,"y":6.37},{"x":7.2,"y":6.2},{"x":7.12,"y":6.2},{"x":7.27,"y":6.22},{"x":7.35,"y":6.22},{"x":7.56,"y":6.02},{"x":7.79,"y":6.02},{"x":8.35,"y":6.2},
{"x":6.56,"y":5.6},{"x":6.63,"y":5.56},{"x":6.7,"y":5.65},{"x":6.78,"y":5.7},{"x":6.85,"y":5.7},{"x":6.92,"y":5.66},{"x":6.96,"y":5.55},{"x":6.67,"y":5.43},{"x":6.74,"y":5.39},{"x":6.82,"y":5.31},{"x":6.88,"y":5.5},{"x":7.18,"y":5.32},{"x":7.0,"y":5.62},{"x":6.7,"y":5.5},
{"x":8.0,"y":5.42},{"x":8.08,"y":5.5},{"x":8.15,"y":5.48},{"x":8.22,"y":5.44},{"x":8.28,"y":5.38},{"x":8.33,"y":5.36},{"x":8.37,"y":5.3},{"x":8.42,"y":5.32},{"x":8.12,"y":5.42},
{"x":6.75,"y":3.82},{"x":6.91,"y":3.94},{"x":6.95,"y":4.2},{"x":7.0,"y":4.1},{"x":6.96,"y":3.63},{"x":7.15,"y":4.23},{"x":7.24,"y":4.21},{"x":7.16,"y":3.96},{"x":7.16,"y":4.56},{"x":7.4,"y":4.62},{"x":7.44,"y":4.4},{"x":7.44,"y":4.23},{"x":7.64,"y":4.6},{"x":6.86,"y":4.37},{"x":6.77,"y":4.12},{"x":6.58,"y":4.37},{"x":6.56,"y":4.15},{"x":6.42,"y":4.51},{"x":6.49,"y":4.48},{"x":6.38,"y":4.6},
{"x":5.22,"y":6.12},{"x":5.34,"y":6.13},{"x":5.46,"y":6.11},{"x":5.58,"y":6.13},{"x":5.7,"y":6.12},{"x":5.82,"y":6.11},{"x":5.94,"y":6.13},{"x":6.06,"y":6.12},{"x":6.18,"y":6.11},{"x":6.3,"y":6.13},{"x":6.42,"y":6.12},{"x":6.54,"y":6.11},
{"x":5.2,"y":6.24},{"x":5.32,"y":6.25},{"x":5.44,"y":6.23},{"x":5.56,"y":6.25},{"x":5.68,"y":6.24},{"x":5.8,"y":6.23},{"x":5.92,"y":6.25},{"x":6.04,"y":6.24},{"x":6.16,"y":6.23},{"x":6.28,"y":6.25},{"x":6.4,"y":6.24},{"x":6.52,"y":6.23},
{"x":5.36,"y":6.36},{"x":5.48,"y":6.37},{"x":5.6,"y":6.35},{"x":5.72,"y":6.37},{"x":5.84,"y":6.36},{"x":5.96,"y":6.35},{"x":6.08,"y":6.37},{"x":6.2,"y":6.36},{"x":6.32,"y":6.35},{"x":6.44,"y":6.37},{"x":6.56,"y":6.36},
{"x":5.6,"y":6.0},{"x":5.72,"y":6.01},{"x":5.96,"y":5.99},{"x":6.08,"y":6.01},{"x":6.2,"y":6.0},{"x":6.32,"y":5.99},{"x":6.44,"y":6.01},{"x":6.56,"y":6.0},
{"x":5.02,"y":5.36},{"x":5.14,"y":5.37},{"x":5.26,"y":5.35},{"x":5.38,"y":5.37},{"x":5.5,"y":5.36},{"x":5.62,"y":5.35},{"x":5.74,"y":5.37},{"x":5.86,"y":5.36},{"x":5.98,"y":5.35},{"x":6.1,"y":5.37},{"x":6.22,"y":5.36},{"x":6.34,"y":5.35},
{"x":5.0,"y":5.48},{"x":5.12,"y":5.49},{"x":5.24,"y":5.47},{"x":5.36,"y":5.49},{"x":5.48,"y":5.48},{"x":5.6,"y":5.47},{"x":5.72,"y":5.49},{"x":5.84,"y":5.48},{"x":5.96,"y":5.47},{"x":6.08,"y":5.49},{"x":6.2,"y":5.48},{"x":6.32,"y":5.47},{"x":6.44,"y":5.49},
{"x":5.08,"y":5.6},{"x":5.2,"y":5.61},{"x":5.32,"y":5.59},{"x":5.44,"y":5.61},{"x":5.56,"y":5.6},{"x":5.68,"y":5.59},{"x":5.8,"y":5.61},{"x":5.92,"y":5.6},{"x":6.04,"y":5.59},{"x":6.16,"y":5.61},{"x":6.28,"y":5.6},{"x":6.4,"y":5.59},
{"x":5.38,"y":5.72},{"x":5.5,"y":5.73},{"x":5.62,"y":5.71},{"x":5.74,"y":5.73},{"x":5.86,"y":5.72},{"x":5.98,"y":5.71},{"x":6.1,"y":5.73},{"x":6.22,"y":5.72},{"x":6.34,"y":5.71},
{"x":6.26,"y":6.6},{"x":6.38,"y":6.61},{"x":6.5,"y":6.59},{"x":6.62,"y":6.61},
{"x":6.3,"y":6.72},{"x":6.42,"y":6.73},{"x":6.54,"y":6.71},{"x":6.66,"y":6.73},{"x":6.78,"y":6.72},
{"x":6.36,"y":6.84},{"x":6.48,"y":6.85},{"x":6.6,"y":6.83},{"x":6.72,"y":6.85},{"x":6.84,"y":6.84},{"x":6.96,"y":6.83},
{"x":6.4,"y":6.96},{"x":6.52,"y":6.97},{"x":6.64,"y":6.95},{"x":6.76,"y":6.97},{"x":6.88,"y":6.96},{"x":7.0,"y":6.95},{"x":7.12,"y":6.97},
{"x":6.36,"y":7.08},{"x":6.48,"y":7.09},{"x":6.6,"y":7.07},{"x":6.72,"y":7.09},{"x":6.84,"y":7.08},{"x":6.96,"y":7.07},{"x":7.08,"y":7.09},{"x":7.2,"y":7.08},
{"x":6.3,"y":7.2},{"x":6.42,"y":7.21},{"x":6.54,"y":7.19},{"x":6.66,"y":7.21},{"x":6.78,"y":7.2},{"x":6.9,"y":7.19},{"x":7.02,"y":7.21},{"x":7.14,"y":7.2},{"x":7.26,"y":7.19},{"x":7.38,"y":7.21},
{"x":6.24,"y":7.32},{"x":6.36,"y":7.33},{"x":6.48,"y":7.31},{"x":6.6,"y":7.33},{"x":6.72,"y":7.32},{"x":6.84,"y":7.31},{"x":6.96,"y":7.33},{"x":7.08,"y":7.32},{"x":7.2,"y":7.31},{"x":7.32,"y":7.33},{"x":7.44,"y":7.32},
{"x":6.34,"y":7.44},{"x":6.46,"y":7.45},{"x":6.58,"y":7.43},{"x":6.7,"y":7.45},{"x":6.82,"y":7.44},{"x":6.94,"y":7.43},{"x":7.06,"y":7.45},{"x":7.18,"y":7.44},{"x":7.3,"y":7.43},{"x":7.42,"y":7.45},{"x":7.52,"y":7.44},
{"x":6.66,"y":7.56},{"x":6.78,"y":7.57},{"x":6.9,"y":7.55},{"x":7.02,"y":7.57},{"x":7.14,"y":7.56},{"x":7.26,"y":7.55},{"x":7.38,"y":7.57},{"x":7.5,"y":7.56},
{"x":7.5,"y":7.8},{"x":7.62,"y":7.81},{"x":7.74,"y":7.79},{"x":7.86,"y":7.81},
{"x":7.6,"y":7.92},{"x":7.72,"y":7.93},{"x":7.84,"y":7.91},{"x":7.96,"y":7.93},{"x":8.1,"y":7.92},{"x":8.2,"y":7.91},
{"x":7.66,"y":8.04},{"x":7.78,"y":8.05},{"x":7.9,"y":8.03},{"x":8.02,"y":8.05},{"x":8.14,"y":8.04},{"x":8.26,"y":8.03},{"x":8.38,"y":8.05},
{"x":7.72,"y":8.16},{"x":7.84,"y":8.17},{"x":7.96,"y":8.15},{"x":8.08,"y":8.17},{"x":8.2,"y":8.16},{"x":8.32,"y":8.15},{"x":8.44,"y":8.17},
{"x":7.78,"y":8.28},{"x":7.9,"y":8.29},{"x":8.02,"y":8.27},{"x":8.14,"y":8.29},{"x":8.26,"y":8.28},{"x":8.38,"y":8.27},{"x":8.5,"y":8.29},
{"x":7.84,"y":8.4},{"x":7.96,"y":8.41},{"x":8.08,"y":8.39},{"x":8.2,"y":8.41},{"x":8.32,"y":8.4},{"x":8.44,"y":8.39},{"x":8.56,"y":8.41},
{"x":7.86,"y":8.52},{"x":7.98,"y":8.53},{"x":8.1,"y":8.51},{"x":8.22,"y":8.53},{"x":8.34,"y":8.52},{"x":8.46,"y":8.51},{"x":8.58,"y":8.53},{"x":8.68,"y":8.52},
{"x":7.9,"y":8.64},{"x":8.02,"y":8.65},{"x":8.14,"y":8.63},{"x":8.26,"y":8.65},{"x":8.38,"y":8.64},{"x":8.5,"y":8.63},{"x":8.62,"y":8.65},
{"x":7.94,"y":8.76},{"x":8.06,"y":8.77},{"x":8.18,"y":8.75},{"x":8.3,"y":8.77},{"x":8.42,"y":8.76},{"x":8.54,"y":8.75},{"x":8.66,"y":8.77},
{"x":8.04,"y":8.88},{"x":8.16,"y":8.89},{"x":8.28,"y":8.87},{"x":8.4,"y":8.89},{"x":8.52,"y":8.88},{"x":8.64,"y":8.87},
{"x":5.9,"y":4.23},{"x":6.0,"y":4.24},{"x":6.1,"y":4.22},{"x":6.2,"y":4.24},{"x":6.3,"y":4.23},
{"x":5.85,"y":4.33},{"x":5.95,"y":4.34},{"x":6.05,"y":4.32},{"x":6.15,"y":4.34},{"x":6.25,"y":4.33},{"x":6.35,"y":4.32},
{"x":5.86,"y":4.43},{"x":5.96,"y":4.44},{"x":6.06,"y":4.42},{"x":6.16,"y":4.44},{"x":6.26,"y":4.43},{"x":6.36,"y":4.42},
{"x":5.9,"y":4.53},{"x":6.0,"y":4.54},{"x":6.1,"y":4.52},{"x":6.2,"y":4.54},{"x":6.3,"y":4.53},{"x":6.45,"y":4.52},
{"x":5.98,"y":4.63},{"x":6.08,"y":4.64},{"x":6.18,"y":4.62},{"x":6.28,"y":4.64}
],
"la":[{"x":3.55,"y":3.345,"s":"solid"},{"x":10,"y":9.423,"s":"solid"},{"x":3.55,"y":3.439,"s":"dotted"},{"x":10,"y":9.257,"s":"dotted"}],
"lb":[{"x":3.55,"y":3.55,"s":"solid"},{"x":10,"y":10,"s":"solid"},{"x":3.55,"y":3.36,"s":"dotted"},{"x":9.687,"y":10,"s":"dotted"}]
},
"hconcat":[
{"width":318,"height":284,
 "layer":[
  {"data":{"name":"low"},"mark":{"type":"circle","size":25,"fill":"#4f85c8","stroke":"#0a0f18","strokeWidth":1.3,"opacity":1},
   "encoding":{"x":{"field":"x","type":"quantitative","title":null,"scale":{"domain":[3,10],"nice":false,"zero":false},"axis":{"values":[3,4,5,6,7,8,9,10],"format":"d"}},
               "y":{"field":"y","type":"quantitative","title":null,"scale":{"domain":[3,10],"nice":false,"zero":false},"axis":{"values":[3,4,5,6,7,8,9,10],"format":"d"}}}},
  {"data":{"name":"a"},"mark":{"type":"circle","size":25,"fill":"#4f85c8","stroke":"#0a0f18","strokeWidth":1.3,"opacity":1},
   "encoding":{"x":{"field":"x","type":"quantitative","title":null},"y":{"field":"y","type":"quantitative","title":null}}},
  {"data":{"name":"la"},"transform":[{"filter":"datum.s == 'solid'"}],"mark":{"type":"line","color":"#000","strokeWidth":1.6},
   "encoding":{"x":{"field":"x","type":"quantitative","title":null},"y":{"field":"y","type":"quantitative","title":null}}},
  {"data":{"name":"la"},"transform":[{"filter":"datum.s == 'dotted'"}],"mark":{"type":"line","color":"#000","strokeWidth":1.6,"strokeDash":[2,2]},
   "encoding":{"x":{"field":"x","type":"quantitative","title":null},"y":{"field":"y","type":"quantitative","title":null}}},
  {"data":{"values":[{}]},"mark":{"type":"text","text":"y = 0.902x + 0.2368","font":"Lato","fontWeight":"bold","fontSize":13,"align":"center","baseline":"middle","color":"#000"},
   "encoding":{"x":{"datum":4.43,"type":"quantitative"},"y":{"datum":9.53,"type":"quantitative"}}},
  {"data":{"values":[{}]},"mark":{"type":"text","text":"R² = 0.828","font":"Lato","fontWeight":"bold","fontSize":13,"align":"center","baseline":"middle","color":"#000"},
   "encoding":{"x":{"datum":4.43,"type":"quantitative"},"y":{"datum":9.11,"type":"quantitative"}}},
  {"data":{"values":[{}]},"mark":{"type":"text","text":"y = 0.9423x","font":"Liberation Serif, Times New Roman, DejaVu Serif, serif","fontWeight":"bold","fontSize":15,"align":"center","baseline":"middle","color":"#000"},
   "encoding":{"x":{"datum":4.25,"type":"quantitative"},"y":{"datum":8.62,"type":"quantitative"}}},
  {"data":{"values":[{}]},"mark":{"type":"text","text":"R² = 0.8262","font":"Liberation Serif, Times New Roman, DejaVu Serif, serif","fontWeight":"bold","fontSize":15,"align":"center","baseline":"middle","color":"#000"},
   "encoding":{"x":{"datum":4.25,"type":"quantitative"},"y":{"datum":8.23,"type":"quantitative"}}},
  {"data":{"values":[{}]},"mark":{"type":"text","text":"pI","font":"Liberation Serif, Times New Roman, DejaVu Serif, serif","fontSize":17,"align":"left","baseline":"alphabetic","color":"#000"},
   "encoding":{"x":{"datum":4.585,"type":"quantitative"},"y":{"datum":1.743,"type":"quantitative"}}},
  {"data":{"values":[{}]},"mark":{"type":"text","text":"exp","font":"Liberation Serif, Times New Roman, DejaVu Serif, serif","fontSize":11,"align":"left","baseline":"alphabetic","color":"#000"},
   "encoding":{"x":{"datum":4.897,"type":"quantitative"},"y":{"datum":1.644,"type":"quantitative"}}},
  {"data":{"values":[{}]},"mark":{"type":"text","text":"(работа [15])","font":"Liberation Serif, Times New Roman, DejaVu Serif, serif","fontSize":17,"align":"left","baseline":"alphabetic","color":"#000"},
   "encoding":{"x":{"datum":5.34,"type":"quantitative"},"y":{"datum":1.743,"type":"quantitative"}}},
  {"data":{"values":[{}]},"mark":{"type":"text","text":"pI","font":"Liberation Serif, Times New Roman, DejaVu Serif, serif","fontSize":17,"angle":270,"align":"left","baseline":"alphabetic","color":"#000"},
   "encoding":{"x":{"datum":2.186,"type":"quantitative"},"y":{"datum":6.106,"type":"quantitative"}}},
  {"data":{"values":[{}]},"mark":{"type":"text","text":"pred","font":"Liberation Serif, Times New Roman, DejaVu Serif, serif","fontSize":11,"angle":270,"align":"left","baseline":"alphabetic","color":"#000"},
   "encoding":{"x":{"datum":2.252,"type":"quantitative"},"y":{"datum":6.456,"type":"quantitative"}}},
  {"data":{"values":[{}]},"mark":{"type":"text","text":"(V24-1)","font":"Liberation Serif, Times New Roman, DejaVu Serif, serif","fontSize":17,"angle":270,"align":"left","baseline":"alphabetic","color":"#000"},
   "encoding":{"x":{"datum":2.186,"type":"quantitative"},"y":{"datum":7.036,"type":"quantitative"}}},
  {"data":{"values":[{}]},"mark":{"type":"text","text":"A","font":"Liberation Serif, Times New Roman, DejaVu Serif, serif","fontSize":20,"align":"left","baseline":"alphabetic","color":"#000"},
   "encoding":{"x":{"datum":1.965,"type":"quantitative"},"y":{"datum":1.62,"type":"quantitative"}}}
 ]},
{"width":318,"height":284,
 "layer":[
  {"data":{"name":"low"},"mark":{"type":"circle","size":25,"fill":"#4f85c8","stroke":"#0a0f18","strokeWidth":1.3,"opacity":1},
   "encoding":{"x":{"field":"x","type":"quantitative","title":null,"scale":{"domain":[3,10],"nice":false,"zero":false},"axis":{"values":[3,4,5,6,7,8,9,10],"format":"d"}},
               "y":{"field":"y","type":"quantitative","title":null,"scale":{"domain":[3,10],"nice":false,"zero":false},"axis":{"values":[3,4,5,6,7,8,9,10],"format":"d"}}}},
  {"data":{"name":"b"},"mark":{"type":"circle","size":25,"fill":"#4f85c8","stroke":"#0a0f18","strokeWidth":1.3,"opacity":1},
   "encoding":{"x":{"field":"x","type":"quantitative","title":null},"y":{"field":"y","type":"quantitative","title":null}}},
  {"data":{"name":"lb"},"transform":[{"filter":"datum.s == 'solid'"}],"mark":{"type":"line","color":"#000","strokeWidth":1.6},
   "encoding":{"x":{"field":"x","type":"quantitative","title":null},"y":{"field":"y","type":"quantitative","title":null}}},
  {"data":{"name":"lb"},"transform":[{"filter":"datum.s == 'dotted'"}],"mark":{"type":"line","color":"#000","strokeWidth":1.6,"strokeDash":[2,2]},
   "encoding":{"x":{"field":"x","type":"quantitative","title":null},"y":{"field":"y","type":"quantitative","title":null}}},
  {"data":{"values":[{}]},"mark":{"type":"text","text":"y = 1.082x - 0.4815","font":"Lato","fontWeight":"bold","fontSize":13,"align":"center","baseline":"middle","color":"#000"},
   "encoding":{"x":{"datum":4.497,"type":"quantitative"},"y":{"datum":9.61,"type":"quantitative"}}},
  {"data":{"values":[{}]},"mark":{"type":"text","text":"R² = 0.9701","font":"Lato","fontWeight":"bold","fontSize":13,"align":"center","baseline":"middle","color":"#000"},
   "encoding":{"x":{"datum":4.497,"type":"quantitative"},"y":{"datum":9.16,"type":"quantitative"}}},
  {"data":{"values":[{}]},"mark":{"type":"text","text":"y = 1x","font":"Liberation Serif, Times New Roman, DejaVu Serif, serif","fontWeight":"bold","fontSize":15,"align":"center","baseline":"middle","color":"#000"},
   "encoding":{"x":{"datum":4.3,"type":"quantitative"},"y":{"datum":8.62,"type":"quantitative"}}},
  {"data":{"values":[{}]},"mark":{"type":"text","text":"R² = 0.9641","font":"Liberation Serif, Times New Roman, DejaVu Serif, serif","fontWeight":"bold","fontSize":15,"align":"center","baseline":"middle","color":"#000"},
   "encoding":{"x":{"datum":4.28,"type":"quantitative"},"y":{"datum":8.23,"type":"quantitative"}}},
  {"data":{"values":[{}]},"mark":{"type":"text","text":"pI","font":"Liberation Serif, Times New Roman, DejaVu Serif, serif","fontSize":17,"align":"left","baseline":"alphabetic","color":"#000"},
   "encoding":{"x":{"datum":4.585,"type":"quantitative"},"y":{"datum":1.743,"type":"quantitative"}}},
  {"data":{"values":[{}]},"mark":{"type":"text","text":"exp","font":"Liberation Serif, Times New Roman, DejaVu Serif, serif","fontSize":11,"align":"left","baseline":"alphabetic","color":"#000"},
   "encoding":{"x":{"datum":4.897,"type":"quantitative"},"y":{"datum":1.644,"type":"quantitative"}}},
  {"data":{"values":[{}]},"mark":{"type":"text","text":"(работа [15])","font":"Liberation Serif, Times New Roman, DejaVu Serif, serif","fontSize":17,"align":"left","baseline":"alphabetic","color":"#000"},
   "encoding":{"x":{"datum":5.34,"type":"quantitative"},"y":{"datum":1.743,"type":"quantitative"}}},
  {"data":{"values":[{}]},"mark":{"type":"text","text":"pI","font":"Liberation Serif, Times New Roman, DejaVu Serif, serif","fontSize":17,"angle":270,"align":"left","baseline":"alphabetic","color":"#000"},
   "encoding":{"x":{"datum":2.186,"type":"quantitative"},"y":{"datum":6.106,"type":"quantitative"}}},
  {"data":{"values":[{}]},"mark":{"type":"text","text":"pred","font":"Liberation Serif, Times New Roman, DejaVu Serif, serif","fontSize":11,"angle":270,"align":"left","baseline":"alphabetic","color":"#000"},
   "encoding":{"x":{"datum":2.252,"type":"quantitative"},"y":{"datum":6.456,"type":"quantitative"}}},
  {"data":{"values":[{}]},"mark":{"type":"text","text":"(V24-2)","font":"Liberation Serif, Times New Roman, DejaVu Serif, serif","fontSize":17,"angle":270,"align":"left","baseline":"alphabetic","color":"#000"},
   "encoding":{"x":{"datum":2.186,"type":"quantitative"},"y":{"datum":7.036,"type":"quantitative"}}},
  {"data":{"values":[{}]},"mark":{"type":"text","text":"B","font":"Liberation Serif, Times New Roman, DejaVu Serif, serif","fontSize":20,"align":"left","baseline":"alphabetic","color":"#000"},
   "encoding":{"x":{"datum":2.03,"type":"quantitative"},"y":{"datum":1.62,"type":"quantitative"}}}
 ]}
]
}
